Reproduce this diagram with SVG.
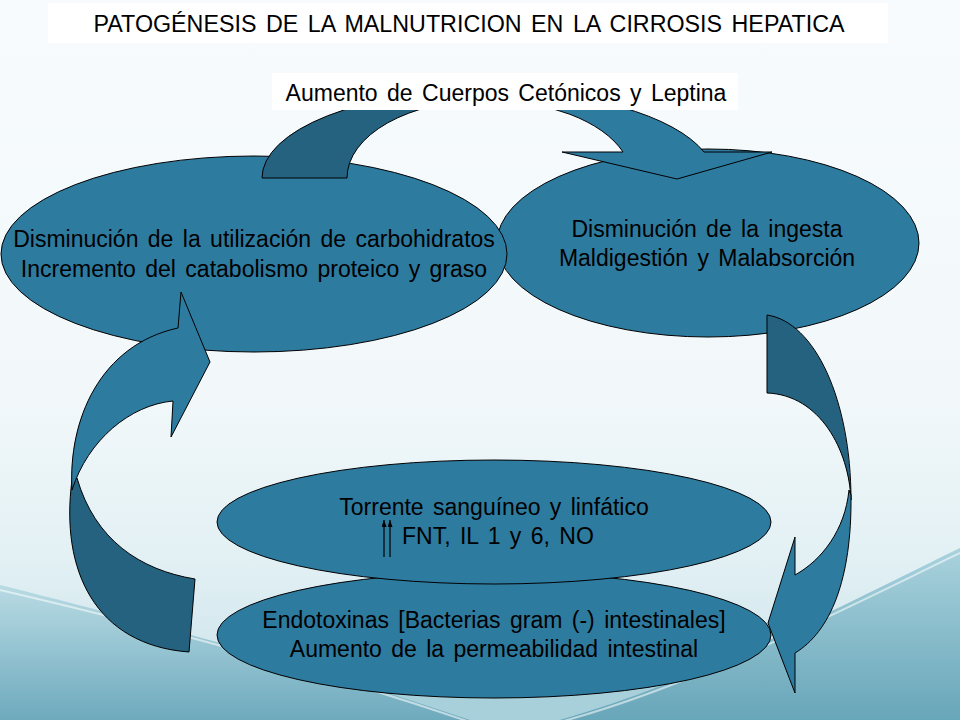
<svg xmlns="http://www.w3.org/2000/svg" width="960" height="720" viewBox="0 0 960 720">
<defs>
<linearGradient id="bg" x1="0" y1="0" x2="0" y2="1">
<stop offset="0" stop-color="#f7fbfd"/>
<stop offset="0.55" stop-color="#f2f8fa"/>
<stop offset="0.78" stop-color="#e2f0f4"/>
<stop offset="1" stop-color="#c6e1e9"/>
</linearGradient>
<linearGradient id="wave" x1="0" y1="0" x2="0" y2="1">
<stop offset="0" stop-color="#b9dbe4"/>
<stop offset="1" stop-color="#6eaabd"/>
</linearGradient>
<linearGradient id="wave2" x1="0" y1="0" x2="0" y2="1">
<stop offset="0" stop-color="#a9d2dd"/>
<stop offset="1" stop-color="#68a6b9"/>
</linearGradient>
<marker id="up" viewBox="0 0 7 5" refX="7" refY="2.5" markerWidth="7" markerHeight="5" markerUnits="userSpaceOnUse" orient="auto">
<path d="M0,0 L7,2.5 L0,5 Z" fill="#000"/>
</marker>
<style>
.node { fill: #2e7ba0; stroke: #000; stroke-width: 1; }
.light { fill: #2e7ba0; stroke: #000; stroke-width: 1; stroke-linejoin: miter; }
.dark { fill: #24627f; stroke: #000; stroke-width: 1; stroke-linejoin: miter; }
.t { font-family: "Liberation Sans", Arial, sans-serif; font-size: 23px; fill: #000; text-anchor: middle; word-spacing: 3px; }
.box { fill: #ffffff; }
.hl { fill: none; stroke: #ffffff; stroke-opacity: 0.55; stroke-width: 2; }
</style>
</defs>

<g id="background">
<rect x="0" y="0" width="960" height="720" fill="url(#bg)"/>
<path d="M0,650 C 300,690 620,700 960,610 L960,720 L0,720 Z" fill="#a7d0db"/>
<path d="M0,585 C 120,615 300,662 470,720 L0,720 Z" fill="url(#wave)"/>
<path d="M960,548 C 850,602 700,680 560,720 L960,720 Z" fill="url(#wave2)"/>
<path class="hl" d="M0,590 C 120,618 300,664 470,722"/>
<path class="hl" d="M960,553 C 850,606 700,684 560,722"/>
</g>

<g id="title">
<rect class="box" x="48" y="3" width="840" height="40"/>
<text class="t" x="469" y="32" font-size="22" word-spacing="0" textLength="751" lengthAdjust="spacingAndGlyphs">PATOGÉNESIS DE LA MALNUTRICION EN LA CIRROSIS HEPATICA</text>
</g>

<g id="node-ingesta">
<ellipse class="node" cx="708" cy="243" rx="211" ry="94"/>
<text class="t" x="707" y="237">Disminución de la ingesta</text>
<text class="t" x="707" y="266">Maldigestión y Malabsorción</text>
</g>

<g id="node-carbohidratos">
<ellipse class="node" cx="254" cy="254" rx="253" ry="98"/>
<text class="t" x="254" y="247">Disminución de la utilización de carbohidratos</text>
<text class="t" x="254" y="277">Incremento del catabolismo proteico y graso</text>
</g>

<g id="node-endotoxinas">
<ellipse class="node" cx="494" cy="635" rx="277" ry="63"/>
<text class="t" x="494" y="628">Endotoxinas [Bacterias gram (-) intestinales]</text>
<text class="t" x="494" y="657">Aumento de la permeabilidad intestinal</text>
</g>

<g id="node-torrente">
<ellipse class="node" cx="494" cy="522" rx="277" ry="62"/>
<text class="t" x="494" y="515">Torrente sanguíneo y linfático</text>
<text class="t" x="402" y="544" style="text-anchor:start">FNT, IL 1 y 6, NO</text>
<path d="M384,557 L384,520" stroke="#000" stroke-width="1.2" marker-end="url(#up)"/>
<path d="M390,557 L390,520" stroke="#000" stroke-width="1.2" marker-end="url(#up)"/>
</g>

<g id="connectors">
<!-- top curved arrow: carbohidratos -> ingesta -->
<path class="dark" d="M262,178 A224,88 0 0 1 486,90 L486,100 A139,78 0 0 0 347,178 Z"/>
<path class="light" d="M486,90 A228,88 0 0 1 704,152 L772,152 L677,179 L562,152 L623,152 A145,78 0 0 0 486,100 Z"/>
<!-- right curved arrow: ingesta -> endotoxinas -->
<path class="dark" d="M767,315 C 815,322 851,400 851,500 C 849,450 820,395 767,393 Z"/>
<path class="light" d="M851,495 C 852,580 830,632 795,653 L795,693 L768,623 L795,537 L795,575 C 822,560 845,530 849,490 Z"/>
<!-- left curved arrow: endotoxinas -> carbohidratos -->
<path class="dark" d="M72,480 C 60,570 95,645 189,652 L195,579 C 140,570 95,540 77,478 Z"/>
<path class="light" d="M72,490 C 68,420 100,345 178,328 L181,292 L210,362 L171,437 L173,401 C 130,405 88,440 72,490 Z"/>
</g>

<g id="label-cetonicos">
<rect class="box" x="272" y="73" width="466" height="37"/>
<text class="t" x="506" y="101">Aumento de Cuerpos Cetónicos y Leptina</text>
</g>
</svg>
